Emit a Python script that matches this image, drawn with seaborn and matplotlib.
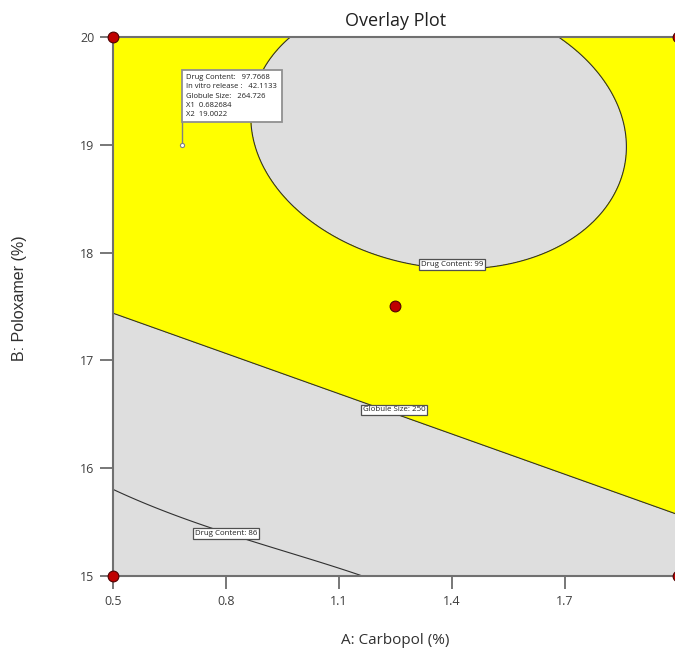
import numpy as np
import pandas as pd
import seaborn as sns
import matplotlib
matplotlib.use("Agg")
import matplotlib.pyplot as plt

# factor ranges (actual units)
carbopol_range = [0.5, 2.0]
poloxamer_range = [15.0, 20.0]

# design points: factorial corners + centre point
design_carbopol = [0.5, 0.5, 2.0, 2.0, 1.25]
design_poloxamer = [15.0, 20.0, 15.0, 20.0, 17.5]

# fitted models in coded units: b0, A, B, AB, A^2, B^2
drug_content_coef = [97.99, 1.46, 6.79, -0.85, -2.98, -5.14]
# extra terms acting near low poloxamer: w(B) * (c0 + c1*A + c2*A^2)
drug_content_low_coef = [0.633, 3.613, 2.98]
globule_size_coef = [258.19, 7.68, 20.55, 0.0, 0.0, 0.0]

# overlay criteria
drug_content_lo = 86
drug_content_hi = 99
globule_size_min = 250

# flag
flag_x = 0.682684
flag_y = 19.0022
flag_lines = ["Drug Content:   97.7668",
              "In vitro release :   42.1133",
              "Globule Size:   264.726",
              "X1  0.682684",
              "X2  19.0022"]

# contour labels
contour_label_text = ["Drug Content: 99", "Globule Size: 250", "Drug Content: 86"]
contour_label_x = [1.40, 1.246, 0.80]
contour_label_y = [17.894, 16.54, 15.39]

x_ticks = [0.5, 0.8, 1.1, 1.4, 1.7]
y_ticks = [15, 16, 17, 18, 19, 20]


def coded(v, rng):
    mid = (rng[0] + rng[1]) / 2
    half = (rng[1] - rng[0]) / 2
    return (v - mid) / half


def quad(coef, a, b):
    return (coef[0] + coef[1]*a + coef[2]*b + coef[3]*a*b
            + coef[4]*a**2 + coef[5]*b**2)


sns.set_theme(style="white")
plt.rcParams['font.family'] = ['Open Sans', 'DejaVu Sans']

fig = plt.figure(figsize=(6.75, 6.5), dpi=100)
ax = fig.add_axes([113/675, 74/650, 565/675, 539/650])

xs = np.linspace(carbopol_range[0], carbopol_range[1], 500)
ys = np.linspace(poloxamer_range[0], poloxamer_range[1], 500)
X, Y = np.meshgrid(xs, ys)
a = coded(X, carbopol_range)
b = coded(Y, poloxamer_range)
w = ((1 - b) / 2) ** 6
dc = quad(drug_content_coef, a, b) + w * (drug_content_low_coef[0]
                                          + drug_content_low_coef[1]*a
                                          + drug_content_low_coef[2]*a**2)
gs = quad(globule_size_coef, a, b)

# feasible (yellow) where every criterion holds
feas = np.minimum.reduce([drug_content_hi - dc, dc - drug_content_lo, gs - globule_size_min])
ax.contourf(X, Y, feas, levels=[-1e6, 0, 1e6], colors=['#dedede', '#ffff00'])
ax.contour(X, Y, dc, levels=[drug_content_lo, drug_content_hi], colors='#303030', linewidths=0.8)
ax.contour(X, Y, gs, levels=[globule_size_min], colors='#303030', linewidths=0.8)

for t, lx, ly in zip(contour_label_text, contour_label_x, contour_label_y):
    ax.text(lx, ly, t, ha='center', va='center', fontsize=5.7, color='#202020', zorder=6,
            bbox=dict(boxstyle='square,pad=0.25', fc='white', ec='#505050', lw=0.9))

# design points
pts = pd.DataFrame({"A": design_carbopol, "B": design_poloxamer})
sns.scatterplot(data=pts, x="A", y="B", ax=ax, color='#c00000', edgecolor='#500000',
                linewidth=0.8, s=60, clip_on=False, zorder=7, legend=False)

# flag
ax.plot([flag_x, flag_x], [flag_y, 19.25], color='#808080', lw=1.0, zorder=6)
ax.plot([flag_x], [flag_y], marker='o', ms=3, mfc='white', mec='#808080', mew=0.8, zorder=7)
ax.text(0.695, 19.655, "\n".join(flag_lines), ha='left', va='top', fontsize=5.5,
        linespacing=1.45, color='#202020', zorder=6,
        bbox=dict(boxstyle='square,pad=0.55', fc='white', ec='#909090', lw=1.3))

ax.set_xlim(carbopol_range)
ax.set_ylim(poloxamer_range)
ax.set_xticks(x_ticks)
ax.set_xticklabels([str(v) for v in x_ticks])
ax.set_yticks(y_ticks)
ax.tick_params(axis='both', direction='out', length=9.5, width=1.2, color='#606060',
               labelsize=9, labelcolor='#404040', pad=4)
ax.tick_params(axis='both', which='both', bottom=True, left=True)

for side in ['left', 'bottom', 'top']:
    ax.spines[side].set_color('#707070')
    ax.spines[side].set_linewidth(1.5)
ax.spines['right'].set_visible(False)

ax.set_title("Overlay Plot", fontsize=13, color='#202020', pad=8)
ax.set_xlabel("A: Carbopol (%)", fontsize=11, color='#303030')
ax.xaxis.set_label_coords(0.5, -(633 - 576) / 539)
ax.set_ylabel("B: Poloxamer (%)", fontsize=11.5, color='#303030', family=['Liberation Sans'])
ax.yaxis.set_label_coords((27 - 113) / 565, 0.515)

plt.savefig("out.png", dpi=100)
